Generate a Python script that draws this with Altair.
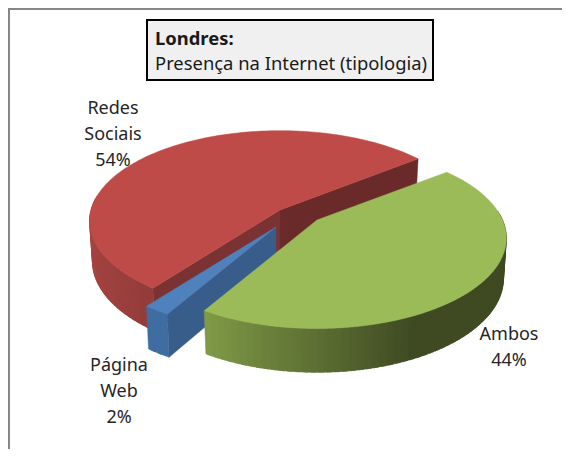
import math
import altair as alt
import pandas as pd

categories = ["Ambos", "Página Web", "Redes Sociais"]
values = [44, 2, 54]
label_lines = [["Ambos", "44%"], ["Página", "Web", "2%"], ["Redes", "Sociais", "54%"]]
top_colors = ["#9BBB59", "#4F81BD", "#BE4B48"]
wall_light = ["#7F9A47", "#3F6CA1", "#A64442"]
wall_dark = ["#3F4A22", "#3F6CA1", "#8F3A38"]
radial_front = [None, "#385D8A", "#7A3232"]
radial_back = [None, None, "#6B2A2A"]
shade_range = [(-0.5, 0.42), (-1, 1), (-1, -0.55)]

# perspective of each exploded slice (window pixels)
apex_x = [317.0, 276.0, 280.0]
apex_y = [220.0, 227.0, 210.0]
semi_a = [185.5, 186.0, 189.0]
semi_b = [86.8, 87.0, 89.0]
persp = [0.2, 0.16, 0.122]
DEPTH, SHRINK_X, STRETCH_Y = 40.0, 0.985, 1.035
START = -38.2


def project(i, X, Y, lower=False):
    w = 1 - persp[i] * Y
    px = X * semi_a[i] / w
    py = Y * semi_b[i] / w
    if lower:
        return apex_x[i] + px * SHRINK_X, apex_y[i] + py * STRETCH_Y + DEPTH
    return apex_x[i] + px, apex_y[i] + py


def lerp_color(c1, c2, f):
    a = [int(c1[j:j + 2], 16) for j in (1, 3, 5)]
    b = [int(c2[j:j + 2], 16) for j in (1, 3, 5)]
    return "#%02x%02x%02x" % tuple(round(p + (q - p) * f) for p, q in zip(a, b))


rows = []
pid = 0


def add_poly(points, color):
    global pid
    closed = list(points) + [points[0]]
    for n, (x, y) in enumerate(closed):
        rows.append({"px": x, "py": y, "ord": n, "pid": f"p{pid:04d}", "c": color})
    pid += 1


def unit(deg):
    return math.cos(math.radians(deg)), math.sin(math.radians(deg))


spans = []
a0 = START
for v in values:
    spans.append((a0, a0 + v * 3.6))
    a0 += v * 3.6

# painter's order: red, blue, green
for idx in (2, 1, 0):
    t0, t1 = spans[idx]
    if radial_back[idx]:
        X, Y = unit(t1)
        add_poly([project(idx, 0, 0), project(idx, X, Y), project(idx, X, Y, True), project(idx, 0, 0, True)],
                 radial_back[idx])
    if radial_front[idx]:
        X, Y = unit(t0)
        add_poly([project(idx, 0, 0), project(idx, X, Y), project(idx, X, Y, True), project(idx, 0, 0, True)],
                 radial_front[idx])
    steps = max(2, int((t1 - t0) / 2))
    lo, hi = shade_range[idx]
    for s in range(steps):
        d0 = t0 + (t1 - t0) * s / steps
        d1 = t0 + (t1 - t0) * (s + 1) / steps
        dm = (d0 + d1) / 2
        if math.sin(math.radians(dm)) < -0.12:
            continue
        d1 = min(t1, d1 + 1.5)
        X0, Y0 = unit(d0)
        X1, Y1 = unit(d1)
        f = min(1.0, max(0.0, (math.cos(math.radians(dm)) - lo) / (hi - lo)))
        add_poly([project(idx, X0, Y0), project(idx, X1, Y1), project(idx, X1, Y1, True), project(idx, X0, Y0, True)],
                 lerp_color(wall_light[idx], wall_dark[idx], f))
    n = max(2, int(t1 - t0))
    top = [project(idx, 0, 0)]
    for s in range(n + 1):
        X, Y = unit(t0 + (t1 - t0) * s / n)
        top.append(project(idx, X, Y))
    add_poly(top, top_colors[idx])

x_scale = alt.Scale(domain=[8, 562], range=[0, 554], nice=False, zero=False)
y_scale = alt.Scale(domain=[8, 449], range=[0, 441], nice=False, zero=False)

pie = alt.Chart(pd.DataFrame(rows)).mark_line(strokeWidth=0.5, clip=False).encode(
    x=alt.X("px:Q", scale=x_scale, axis=None),
    y=alt.Y("py:Q", scale=y_scale, axis=None),
    order="ord:Q",
    detail="pid:N",
    fill=alt.Fill("c:N", scale=None, legend=None),
    stroke=alt.Stroke("c:N", scale=None, legend=None),
)

label_pos = [(509, 340), (119, 371), (113, 114)]
LINE = 26
lab_rows = []
for lines, (lx, ly) in zip(label_lines, label_pos):
    for i, t in enumerate(lines):
        lab_rows.append({"lx": lx, "ly": ly + i * LINE, "t": t})
labels = alt.Chart(pd.DataFrame(lab_rows)).mark_text(
    font="Noto Sans", fontSize=18, color="#262626", align="center", baseline="alphabetic"
).encode(
    x=alt.X("lx:Q", scale=x_scale, axis=None),
    y=alt.Y("ly:Q", scale=y_scale, axis=None),
    text="t:N",
)

box = alt.Chart(pd.DataFrame([{"x0": 147, "x1": 433, "y0": 20, "y1": 80}])).mark_rect(
    fill="#F0F0F0", stroke="#000000", strokeWidth=2
).encode(
    x=alt.X("x0:Q", scale=x_scale, axis=None),
    x2="x1:Q",
    y=alt.Y("y0:Q", scale=y_scale, axis=None),
    y2="y1:Q",
)


def title_line(text, ty, weight):
    return alt.Chart(pd.DataFrame([{"tx": 155, "ty": ty, "t": text}])).mark_text(
        font="Noto Sans", fontSize=18.4, color="#1a1a1a", align="left", baseline="alphabetic", fontWeight=weight
    ).encode(
        x=alt.X("tx:Q", scale=x_scale, axis=None),
        y=alt.Y("ty:Q", scale=y_scale, axis=None),
        text="t:N",
    )


border_v = alt.Chart(pd.DataFrame([{"a": 9, "b": 8, "c": 449}])).mark_rule(color="#868686", strokeWidth=2).encode(
    x=alt.X("a:Q", scale=x_scale, axis=None),
    y=alt.Y("b:Q", scale=y_scale, axis=None),
    y2="c:Q",
)
border_h = alt.Chart(pd.DataFrame([{"a": 8, "b": 562, "c": 9}])).mark_rule(color="#868686", strokeWidth=2).encode(
    x=alt.X("a:Q", scale=x_scale, axis=None),
    x2="b:Q",
    y=alt.Y("c:Q", scale=y_scale, axis=None),
)

chart = alt.layer(
    border_v, border_h, pie, box,
    title_line("Londres:", 45, "bold"),
    title_line("Presença na Internet (tipologia)", 70, "normal"),
    labels,
).properties(
    width=554, height=441, padding=0, autosize=alt.AutoSizeParams(type="none"), background="white"
).configure_view(stroke=None)

chart.save("out.html", embed_options={"renderer": "svg", "actions": False})
